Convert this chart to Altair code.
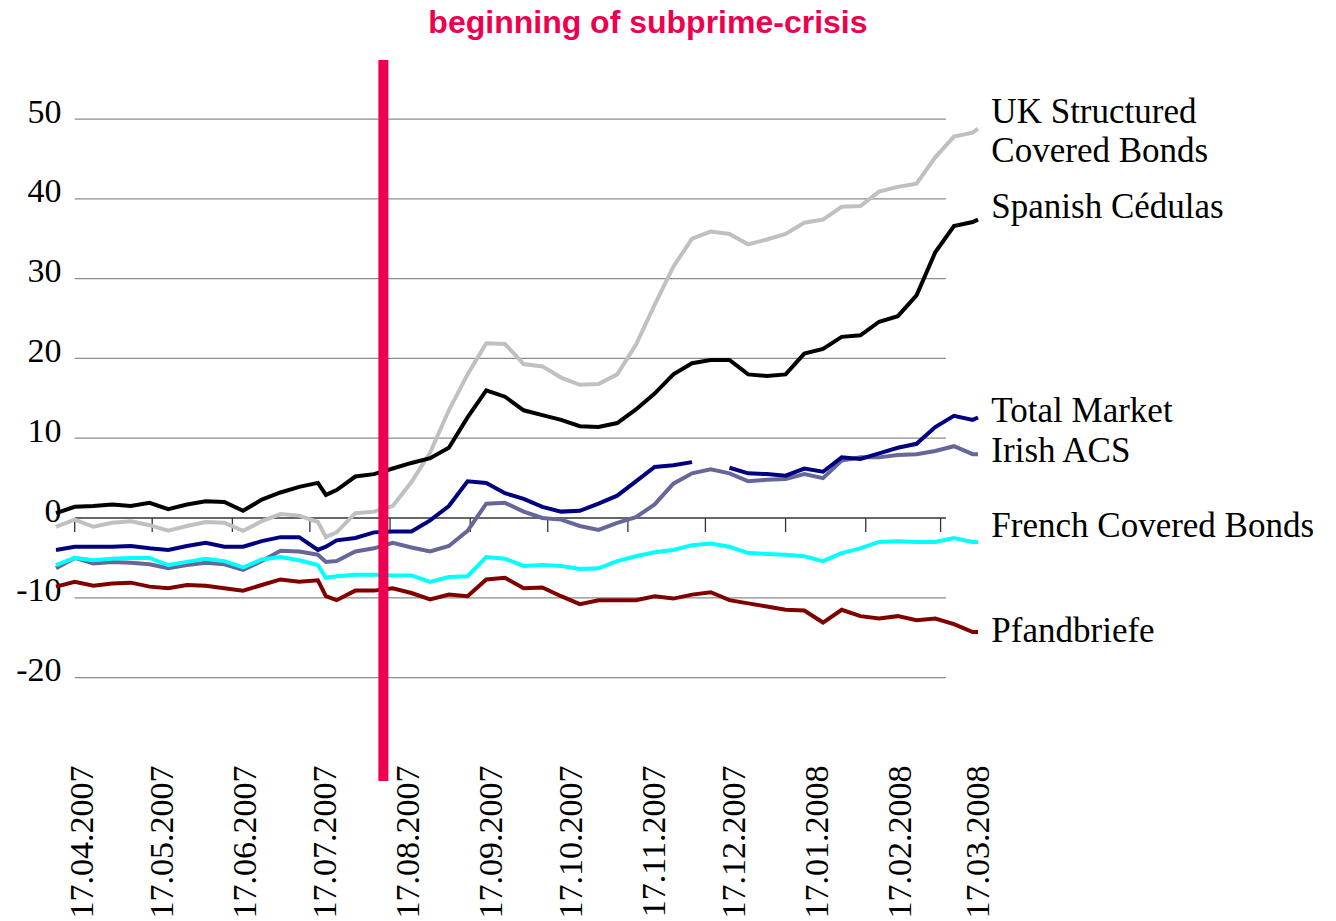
import altair as alt
import pandas as pd

# ---------------- data ----------------
dates = ["2007-04-07", "2007-04-14", "2007-04-21", "2007-04-28", "2007-05-05", "2007-05-12",
         "2007-05-19", "2007-05-26", "2007-06-02", "2007-06-09", "2007-06-16", "2007-06-23",
         "2007-06-30", "2007-07-07", "2007-07-14", "2007-07-17", "2007-07-21", "2007-07-28",
         "2007-08-04", "2007-08-11", "2007-08-18", "2007-08-25", "2007-09-01", "2007-09-08",
         "2007-09-15", "2007-09-22", "2007-09-29", "2007-10-06", "2007-10-13", "2007-10-20",
         "2007-10-27", "2007-11-03", "2007-11-10", "2007-11-17", "2007-11-24", "2007-12-01",
         "2007-12-08", "2007-12-15", "2007-12-22", "2007-12-29", "2008-01-05", "2008-01-12",
         "2008-01-19", "2008-01-26", "2008-02-02", "2008-02-09", "2008-02-16", "2008-02-23",
         "2008-03-01", "2008-03-08", "2008-03-15", "2008-03-17"]

uk_structured = [-1.1, -0.2, -1.1, -0.6, -0.4, -0.9, -1.6, -1.0, -0.5, -0.6,
                 -1.6, -0.4, 0.5, 0.3, -0.5, -2.4, -1.8, 0.6, 0.8, 1.5,
                 4.5, 8.2, 13.5, 18.0, 21.9, 21.8, 19.3, 19.0, 17.6, 16.7,
                 16.8, 18.0, 21.7, 26.7, 31.5, 35.0, 35.9, 35.6, 34.3, 34.9,
                 35.6, 37.0, 37.4, 39.0, 39.1, 40.9, 41.5, 41.9, 45.2, 47.8,
                 48.3, 48.8]

spanish_cedulas = [0.6, 1.4, 1.5, 1.7, 1.5, 1.9, 1.1, 1.7, 2.1, 2.0,
                   0.9, 2.3, 3.2, 3.9, 4.4, 2.9, 3.5, 5.2, 5.5, 6.2,
                   6.9, 7.5, 8.8, 12.6, 16.0, 15.2, 13.5, 12.9, 12.3, 11.5,
                   11.4, 11.9, 13.6, 15.6, 18.0, 19.4, 19.8, 19.8, 18.0, 17.8,
                   18.0, 20.6, 21.2, 22.7, 22.9, 24.6, 25.3, 27.9, 33.3, 36.6,
                   37.1, 37.4]

total_market = [-4.0, -3.6, -3.6, -3.6, -3.5, -3.8, -4.0, -3.5, -3.1, -3.6,
                -3.6, -2.9, -2.4, -2.4, -4.0, -3.6, -2.8, -2.5, -1.8, -1.7,
                -1.7, -0.3, 1.5, 4.6, 4.4, 3.1, 2.4, 1.4, 0.8, 0.9,
                1.8, 2.8, 4.6, 6.4, 6.6, 7.0, None, 6.3, 5.6, 5.5,
                5.3, 6.2, 5.8, 7.6, 7.4, 8.1, 8.8, 9.3, 11.4, 12.8,
                12.3, 12.6]

irish_acs = [-6.3, -5.0, -5.7, -5.5, -5.6, -5.8, -6.3, -5.9, -5.6, -5.8,
             -6.5, -5.4, -4.1, -4.2, -4.6, -5.5, -5.4, -4.2, -3.8, -3.1,
             -3.7, -4.2, -3.5, -1.6, 1.8, 1.9, 0.8, 0.0, -0.2, -1.0,
             -1.5, -0.6, 0.1, 1.7, 4.3, 5.6, 6.1, 5.6, 4.6, 4.8,
             4.9, 5.5, 5.0, 7.2, 7.6, 7.6, 7.9, 8.0, 8.4, 9.0,
             8.0, 8.0]

french_covered = [-5.9, -5.0, -5.3, -5.1, -5.0, -5.0, -5.9, -5.5, -5.1, -5.4,
                  -6.2, -5.2, -4.9, -5.3, -5.9, -7.5, -7.3, -7.1, -7.1, -7.2,
                  -7.2, -8.0, -7.4, -7.3, -4.9, -5.1, -6.0, -5.9, -6.0, -6.4,
                  -6.3, -5.4, -4.8, -4.3, -4.0, -3.4, -3.2, -3.6, -4.4, -4.5,
                  -4.6, -4.8, -5.4, -4.4, -3.8, -3.0, -2.9, -3.0, -3.0, -2.5,
                  -3.0, -3.0]

pfandbriefe = [-8.6, -8.0, -8.5, -8.2, -8.1, -8.6, -8.8, -8.4, -8.5, -8.8,
               -9.1, -8.4, -7.7, -8.0, -7.8, -9.8, -10.3, -9.1, -9.1, -8.8,
               -9.4, -10.2, -9.6, -9.8, -7.7, -7.5, -8.8, -8.7, -9.8, -10.8,
               -10.3, -10.3, -10.3, -9.8, -10.1, -9.6, -9.3, -10.3, -10.7, -11.1,
               -11.5, -11.6, -13.1, -11.5, -12.3, -12.6, -12.3, -12.8, -12.6, -13.3,
               -14.3, -14.3]

series_names = ["UK Structured Covered Bonds", "Spanish Cédulas", "Irish ACS",
                "Total Market", "French Covered Bonds", "Pfandbriefe"]
series_values = [uk_structured, spanish_cedulas, irish_acs, total_market,
                 french_covered, pfandbriefe]
series_colors = ["#C0C0C0", "#000000", "#666699", "#000080", "#00FFFF", "#800000"]

label_texts = ["UK Structured", "Covered Bonds", "Spanish Cédulas", "Total Market",
               "Irish ACS", "French Covered Bonds", "Pfandbriefe"]
label_values = [49.5, 44.6, 37.6, 12.0, 7.0, -2.4, -15.5]
label_date = "2008-03-22"

x_label_dates = [(2007, 4), (2007, 5), (2007, 6), (2007, 7), (2007, 8), (2007, 9),
                 (2007, 10), (2007, 11), (2007, 12), (2008, 1), (2008, 2), (2008, 3)]
y_ticks = [-20, -10, 0, 10, 20, 30, 40, 50]
grid_values = [50, 40, 30, 20, 10, -10, -20]
grid_start, grid_end = "2007-04-14", "2008-03-05"
axis_tick_dates = ["2007-04-14", "2007-05-13", "2007-06-12", "2007-07-11", "2007-08-10",
                   "2007-09-09", "2007-10-08", "2007-11-07", "2007-12-06", "2008-01-05",
                   "2008-02-04", "2008-03-03"]
crisis_date = "2007-08-07T12:00:00"
title_text = "beginning of subprime-crisis"
title_date = "2007-11-14T12:00:00"
title_value = 60.75

RED = "#EE0050"

# ---------------- tables ----------------
rows = []
for name, vals in zip(series_names, series_values):
    seg = 0
    for d, v in zip(dates, vals):
        if v is None:
            seg += 1
            continue
        rows.append({"date": d, "value": v, "series": name, "key": f"{name}-{seg}"})
df = pd.DataFrame(rows)

grid_df = pd.DataFrame({"value": grid_values, "start": grid_start, "end": grid_end})
zero_df = pd.DataFrame({"value": [0], "start": [grid_start], "end": [grid_end]})
tick_df = pd.DataFrame({"date": axis_tick_dates, "y0": 0.0, "y1": -1.76})
crisis_df = pd.DataFrame({"date": [crisis_date]})
label_df = pd.DataFrame({"label": label_texts, "value": label_values, "date": label_date})
title_df = pd.DataFrame({"label": [title_text], "value": [title_value], "date": [title_date]})

# ---------------- scales / axes ----------------
X_SCALE = alt.Scale(domain=[alt.DateTime(year=2007, month=4, date=7),
                            alt.DateTime(year=2008, month=3, date=17)])
Y_SCALE = alt.Scale(domain=[-32.96, 57.40], nice=False, zero=False)

X_AXIS = alt.Axis(values=[alt.DateTime(year=y, month=m, date=17) for y, m in x_label_dates],
                  format="%d.%m.%Y", labelAngle=270, labelFont="Liberation Serif",
                  labelFontSize=34, labelColor="black", labelPadding=0, ticks=False,
                  tickSize=0, domain=False, grid=False, title=None, offset=-16,
                  labelOverlap=False, labelFlush=False, labelBound=False)
Y_AXIS = alt.Axis(values=y_ticks, labelExpr="'' + datum.value", labelFont="Liberation Serif",
                  labelFontSize=34, labelColor="black", ticks=False, tickSize=0,
                  domain=False, grid=False, title=None, offset=-5, labelPadding=0,
                  labelOffset=-7)


def xch(field):
    return alt.X(f"{field}:T", scale=X_SCALE, axis=X_AXIS, title=None)


def ych(field):
    return alt.Y(f"{field}:Q", scale=Y_SCALE, axis=Y_AXIS, title=None)


grid = alt.Chart(grid_df).mark_rule(color="#8C8C8C", strokeWidth=1.2).encode(
    x=xch("start"), x2=alt.X2("end:T"), y=ych("value"))
zero = alt.Chart(zero_df).mark_rule(color="#333333", strokeWidth=1.3).encode(
    x=xch("start"), x2=alt.X2("end:T"), y=ych("value"))
ticks = alt.Chart(tick_df).mark_rule(color="#333333", strokeWidth=1.3).encode(
    x=xch("date"), y=ych("y0"), y2=alt.Y2("y1:Q"))

lines = alt.Chart(df).mark_line(strokeWidth=4).encode(
    x=xch("date"), y=ych("value"),
    color=alt.Color("series:N", scale=alt.Scale(domain=series_names, range=series_colors),
                    legend=None),
    detail="key:N")

crisis = alt.Chart(crisis_df).mark_rule(color=RED, strokeWidth=10).encode(x=xch("date"))

labels = alt.Chart(label_df).mark_text(align="left", baseline="alphabetic",
                                       font="Liberation Serif", fontSize=35,
                                       color="black").encode(
    x=xch("date"), y=ych("value"), text="label:N")

title = alt.Chart(title_df).mark_text(align="center", baseline="alphabetic",
                                      font="Liberation Sans", fontSize=32, fontWeight="bold",
                                      color=RED).encode(
    x=xch("date"), y=ych("value"), text="label:N")

chart = alt.layer(grid, zero, ticks, lines, crisis, labels, title).properties(
    width=922, height=721,
    background="white",
    autosize=alt.AutoSizeParams(type="none"),
    padding={"left": 48, "top": 52, "right": 340, "bottom": 140},
).configure_view(strokeWidth=0, stroke=None)

chart.save("out.html", embed_options={"renderer": "svg", "actions": False})
